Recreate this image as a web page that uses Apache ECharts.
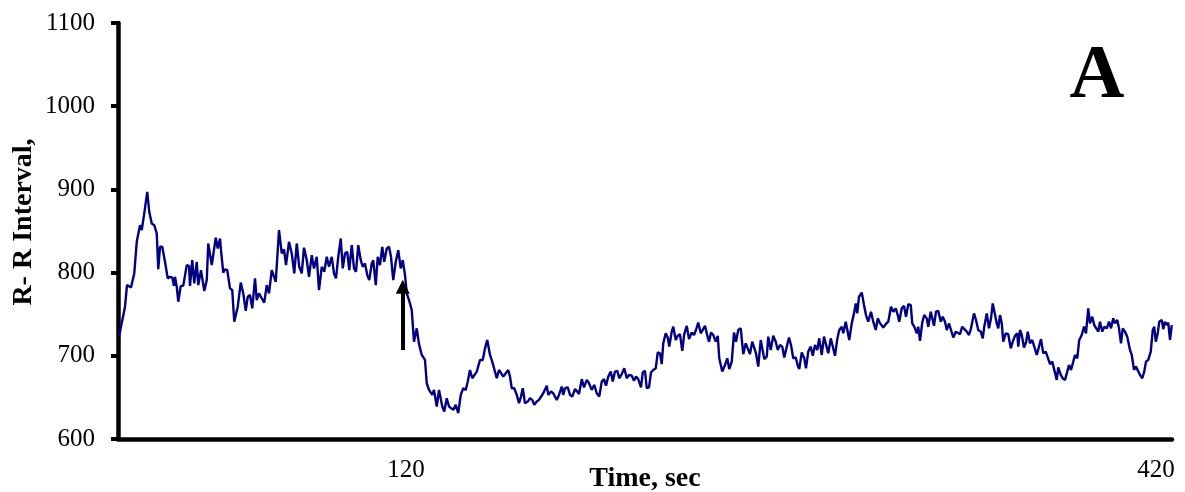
<!DOCTYPE html>
<html>
<head>
<meta charset="utf-8">
<script src="https://cdn.jsdelivr.net/npm/echarts@6/dist/echarts.min.js"></script>
<style>
html,body{margin:0;padding:0;background:#fff;}
#chart{width:1185px;height:492px;}
</style>
</head>
<body>
<div id="chart"></div>
<script>
// Time (seconds) of each sample
var timeSec = [
5.2,7.6,8.4,10.0,11.3,12.3,13.6,14.3,15.2,15.9,
16.5,17.3,18.3,19.3,20.3,20.9,21.6,22.5,23.6,24.7,
25.6,26.5,27.2,27.6,28.3,28.9,29.9,30.9,32.3,33.2,
33.6,34.5,35.3,36.3,36.9,38.0,39.3,40.3,40.9,42.3,
43.9,44.7,45.6,46.0,46.9,47.6,48.5,49.6,50.5,51.3,
52.7,53.9,54.9,55.9,56.7,57.6,58.5,59.6,60.3,61.2,
62.3,63.3,64.3,65.2,
66.3,66.9,67.9,69.2,70.3,71.2,72.0,73.2,74.3,75.3,
76.3,77.3,78.3,79.2,80.3,81.2,82.3,83.2,84.3,85.2,
86.3,87.3,88.3,89.2,90.3,91.2,92.0,92.9,93.9,94.7,
95.6,96.5,97.3,98.3,99.2,100.0,100.9,101.9,102.7,103.6,
104.5,105.3,106.3,106.9,107.9,108.7,109.6,110.5,111.3,112.3,
113.2,114.0,114.9,115.9,116.9,117.9,118.7,119.6,120.3,121.2,
122.3,123.2,124.3,125.2,
126.3,126.9,127.6,128.3,129.2,130.0,130.5,131.2,132.3,133.2,
134.0,134.5,135.3,136.3,137.2,138.0,138.9,139.9,140.9,141.9,
142.9,143.9,144.7,145.6,146.5,147.3,148.3,149.6,150.7,151.6,
152.5,153.6,154.5,155.3,156.3,157.2,158.0,158.9,159.9,160.9,
161.6,162.3,163.3,164.3,165.2,166.0,166.7,167.6,168.7,169.6,
170.5,171.3,172.3,173.2,174.0,174.9,176.3,176.9,178.0,178.9,
180.3,181.2,182.3,182.9,
183.6,184.7,185.6,186.5,187.6,188.5,189.2,190.3,191.2,192.3,
193.2,194.3,195.3,196.3,197.3,198.3,199.2,200.0,200.9,201.9,
202.7,203.6,204.5,205.3,206.3,207.3,208.3,209.2,210.3,211.2,
212.0,212.9,214.0,214.7,215.6,216.3,217.2,218.0,218.9,219.9,
220.7,221.6,222.3,222.9,223.9,224.7,225.3,226.3,226.9,227.9,
228.7,229.6,230.5,231.3,232.3,233.2,234.3,235.2,236.0,236.9,
237.9,238.7,239.6,240.3,241.2,242.0,242.9,243.9,244.7,245.3,
246.5,247.6,248.5,249.3,250.3,251.2,252.0,252.9,253.9,254.9,
255.9,256.7,257.6,258.5,259.3,260.0,260.9,261.9,262.5,263.3,
264.3,264.9,265.9,266.9,267.9,268.7,269.6,270.5,271.3,272.3,
273.2,274.0,274.9,275.9,276.7,277.3,278.3,279.3,280.0,280.9,
281.9,282.7,283.6,284.5,285.3,286.3,287.2,288.0,288.9,289.9,
290.7,291.6,292.5,293.3,294.3,294.9,295.9,296.7,297.3,298.3,
299.2,299.9,300.5,301.2,302.3,303.2,304.0,304.9,
306.0,306.9,307.9,308.7,309.6,310.9,311.9,312.9,314.0,314.9,
315.9,316.7,317.3,318.3,319.2,320.0,320.9,321.9,322.5,323.3,
324.3,324.9,325.6,326.5,327.3,328.3,328.9,329.9,330.7,331.2,
332.0,332.9,333.9,334.7,335.6,336.3,337.2,338.0,338.9,339.9,
340.7,341.6,342.5,343.3,344.3,345.2,346.0,346.5,347.2,348.0,
348.9,349.9,350.7,351.3,352.3,353.2,354.0,354.7,355.3,356.3,
356.9,357.6,358.3,358.9,359.9,360.9,361.9,362.7,363.6,364.5,
364.9,365.6,366.3,367.2,368.0,368.7,369.6,370.5,371.3,372.3,
373.2,374.0,374.9,375.9,376.7,377.6,378.5,379.3,380.3,380.9,
381.9,382.7,383.6,384.5,385.2,386.0,386.9,387.6,388.5,389.3,
390.3,391.2,392.0,392.9,393.6,394.5,395.3,396.3,396.9,397.6,
398.5,399.3,400.3,401.2,402.0,402.9,403.6,404.5,405.2,406.0,
406.7,407.6,408.5,409.6,410.3,411.2,412.0,412.7,413.6,414.5,
415.3,416.0,416.9,417.9,418.7,419.3,419.9,420.7,421.3,422.3,
422.9,423.6,424.3,424.9,425.6,426.3
];

// R-R interval (ms) of each sample
var rrInterval = [
723,759,785,782,799,837,857,851,869,871,
897,873,859,857,847,804,831,831,813,793,
795,794,784,795,783,765,784,784,809,808,
784,815,787,813,785,803,778,791,835,809,
842,829,841,827,800,804,803,781,779,741,
759,788,775,754,771,773,757,793,767,775,
769,764,785,775,
803,805,789,851,823,828,809,837,823,799,
835,807,799,830,815,795,821,805,819,779,
807,801,819,807,819,799,793,819,841,805,
823,825,803,833,805,801,833,815,807,811,
797,791,811,815,785,819,809,831,813,829,
831,819,791,813,827,805,815,797,775,767,
755,717,733,714,
701,703,695,667,659,657,653,659,639,659,
647,639,633,649,639,639,635,641,631,653,
661,659,669,683,673,671,681,695,695,709,
719,701,693,695,673,683,683,675,679,683,
675,661,661,653,643,651,661,643,645,649,
647,641,645,647,645,655,664,653,657,655,
647,653,663,653,
661,662,653,651,660,657,654,672,662,671,
667,659,665,655,651,669,672,664,675,681,
669,681,682,673,678,685,673,677,676,670,
675,672,662,680,682,661,662,680,683,685,
704,703,690,715,727,722,711,729,735,719,
724,726,706,726,736,720,728,725,731,740,
727,729,736,727,717,728,725,717,724,697,
681,689,697,684,693,728,717,731,733,702,
715,717,702,717,716,703,687,719,721,696,
699,723,707,724,717,707,713,711,698,711,
722,713,697,698,688,684,704,697,685,705,
711,700,713,707,721,701,723,721,703,721,
721,700,720,731,735,727,741,739,719,739,
751,763,751,771,776,761,749,741,
753,741,731,745,739,734,738,741,759,753,
757,749,741,757,760,747,762,761,739,735,
727,735,718,740,749,745,735,753,751,736,
753,754,741,747,741,731,739,731,722,729,
728,726,735,735,729,725,733,731,751,743,
731,729,721,735,751,733,745,763,761,739,
733,749,739,717,727,726,709,717,724,727,
711,731,725,710,716,729,715,719,719,701,
711,720,703,705,703,690,693,692,671,686,
677,673,671,681,689,683,693,701,697,719,
725,735,727,757,739,747,737,732,729,741,
729,735,733,741,733,745,739,743,733,715,
733,729,723,707,701,683,687,685,677,673,
681,693,695,705,731,735,717,727,741,743,
732,741,737,740,719,737
];

var xTickLabels = [120, 420];
var yTicks = {min: 600, max: 1100, step: 100};
var xRange = {min: 4.8, max: 426.4};
// Arrow marking the stimulus time (time, from value, to value)
var arrowTime = 118.7;
var arrowFrom = 707;
var arrowTo = 783;

var seriesData = [];
var n = Math.min(timeSec.length, rrInterval.length);
for (var i = 0; i < n; i++) seriesData.push([timeSec[i], rrInterval[i]]);

var serif = "'Liberation Serif', 'Times New Roman', serif";
var chart = echarts.init(document.getElementById('chart'), null, {renderer: 'canvas'});
chart.setOption({
  animation: false,
  backgroundColor: '#ffffff',
  grid: {left: 118, right: 13, top: 23, bottom: 53, containLabel: false, outerBoundsMode: 'none'},
  xAxis: {
    type: 'value',
    min: xRange.min,
    max: xRange.max,
    name: 'Time, sec',
    nameLocation: 'middle',
    nameGap: 26,
    nameMoveOverlap: false,
    nameTextStyle: {fontFamily: serif, fontWeight: 'bold', fontSize: 28, color: '#000', verticalAlign: 'top'},
    axisLine: {show: true, onZero: false, lineStyle: {color: '#000', width: 4.5}},
    axisTick: {show: false},
    splitLine: {show: false},
    axisLabel: {
      customValues: xTickLabels,
      formatter: function (v) { return String(v); },
      fontFamily: serif, fontSize: 25, color: '#000', margin: 19
    }
  },
  yAxis: {
    type: 'value',
    min: yTicks.min,
    max: yTicks.max,
    interval: yTicks.step,
    name: 'R- R Interval,',
    nameLocation: 'middle',
    nameGap: 80,
    nameMoveOverlap: false,
    nameTextStyle: {fontFamily: serif, fontWeight: 'bold', fontSize: 28, color: '#000', padding: [0, 0, 0, 18]},
    axisLine: {show: true, lineStyle: {color: '#000', width: 4.5}},
    axisTick: {show: true, inside: false, length: 7, lineStyle: {color: '#000', width: 4}},
    splitLine: {show: false},
    axisLabel: {
      formatter: function (v) { return String(v); },
      fontFamily: serif, fontSize: 25, color: '#000', margin: 23
    }
  },
  graphic: [{
    type: 'text',
    x: 1097, y: 77,
    style: {
      text: 'A', fill: '#000',
      font: 'bold 76px ' + serif,
      textAlign: 'center', textVerticalAlign: 'middle'
    }
  }],
  series: [{
    type: 'line',
    data: seriesData,
    showSymbol: false,
    symbol: 'none',
    smooth: false,
    lineStyle: {color: '#000080', width: 2.4},
    itemStyle: {color: '#000080'},
    markLine: {
      silent: true,
      symbol: ['none', 'triangle'],
      symbolSize: [14, 14],
      label: {show: false},
      lineStyle: {color: '#000', width: 4, type: 'solid'},
      emphasis: {disabled: true},
      data: [[{coord: [arrowTime, arrowFrom]}, {coord: [arrowTime, arrowTo]}]]
    }
  }]
});
</script>
</body>
</html>
